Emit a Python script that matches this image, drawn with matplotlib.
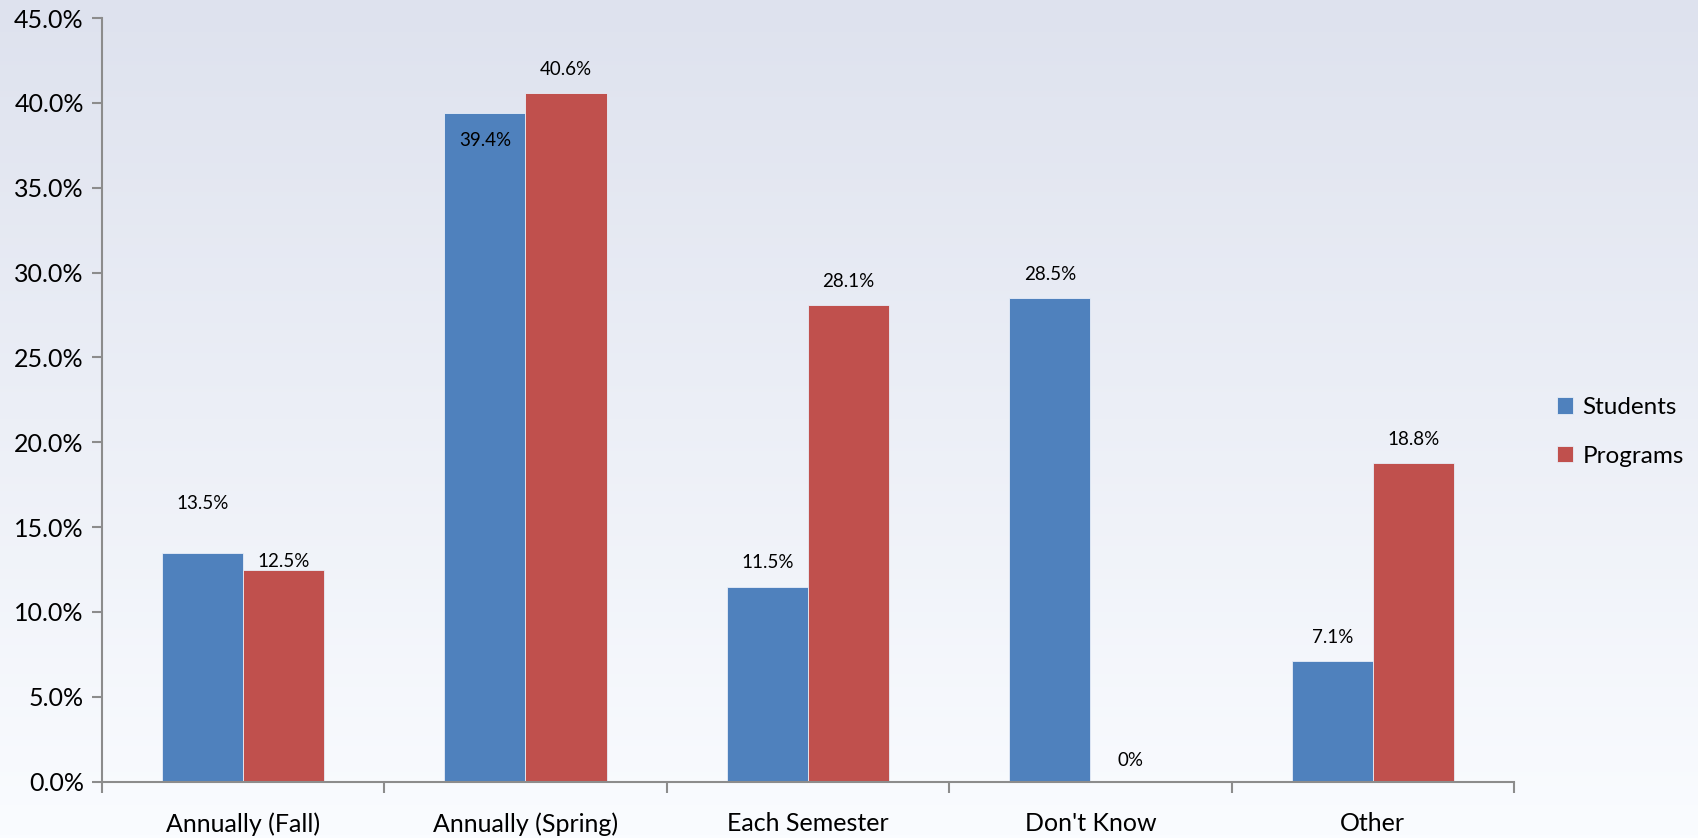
import matplotlib.pyplot as plt
import numpy as np
from matplotlib.ticker import FuncFormatter, FixedLocator
from matplotlib.colors import LinearSegmentedColormap

plt.rcParams['font.family'] = ['Lato', 'DejaVu Sans']

categories = ["Annually (Fall)", "Annually (Spring)", "Each Semester", "Don't Know", "Other"]
students = [13.5, 39.4, 11.5, 28.5, 7.1]
programs = [12.5, 40.6, 28.1, 0.0, 18.8]
students_txt = ["13.5%", "39.4%", "11.5%", "28.5%", "7.1%"]
programs_txt = ["12.5%", "40.6%", "28.1%", "0%", "18.8%"]

# label offsets (points) where the default spot would collide
students_off = [35, -20, 17, 17, 17]
programs_off = [6, 17, 17, 15, 17]

blue = '#4f81bd'
red = '#c0504d'
axis_col = '#8c8c8c'

fig = plt.figure(figsize=(16.98, 8.38), dpi=100)

# soft vertical gradient behind everything
bg = fig.add_axes([0, 0, 1, 1], zorder=-10)
grad = LinearSegmentedColormap.from_list('bg', ['#fafcff', '#dee2ee'])
bg.imshow(np.linspace(0, 1, 256).reshape(-1, 1), aspect='auto', cmap=grad,
          origin='lower', extent=[0, 1, 0, 1])
bg.axis('off')

ax = fig.add_axes([0.060, 0.0672, 0.8316, 0.9113])
ax.patch.set_alpha(0)

x = np.arange(len(categories))
w = 0.287
b1 = ax.bar(x - w / 2, students, w, color=blue, edgecolor='#e8eef8', linewidth=0.6, label='Students')
b2 = ax.bar(x + w / 2, programs, w, color=red, edgecolor='#e8eef8', linewidth=0.6, label='Programs')

for rects, vals, txts, offs in [(b1, students, students_txt, students_off),
                                (b2, programs, programs_txt, programs_off)]:
    for r, v, t, o in zip(rects, vals, txts, offs):
        ax.annotate(t, (r.get_x() + r.get_width() / 2, v), xytext=(0, o),
                    textcoords='offset points', ha='center', va='center', fontsize=13.5)

ax.set_xlim(-0.5, len(categories) - 0.5)
ax.set_ylim(0, 45)
ax.yaxis.set_major_locator(FixedLocator(np.arange(0, 46, 5)))
ax.yaxis.set_major_formatter(FuncFormatter(lambda v, p: f'{v:.1f}%'))

ax.set_xticks(x)
ax.set_xticklabels(categories, fontsize=18)
ax.xaxis.set_minor_locator(FixedLocator(np.arange(-0.5, len(categories), 1)))
ax.tick_params(axis='x', which='major', length=0, pad=22)
ax.tick_params(axis='x', which='minor', length=8, width=1.5, color=axis_col, direction='out')
ax.tick_params(axis='y', length=7, width=1.5, color=axis_col, labelsize=18, pad=6)

for s in ['top', 'right']:
    ax.spines[s].set_visible(False)
for s in ['left', 'bottom']:
    ax.spines[s].set_color(axis_col)
    ax.spines[s].set_linewidth(1.5)

ax.legend(loc='center left', bbox_to_anchor=(1.015, 0.458), frameon=False, fontsize=17.5,
          handlelength=0.65, handleheight=0.65, handletextpad=0.4, labelspacing=1.15)

fig.savefig('out.png', dpi=100)
